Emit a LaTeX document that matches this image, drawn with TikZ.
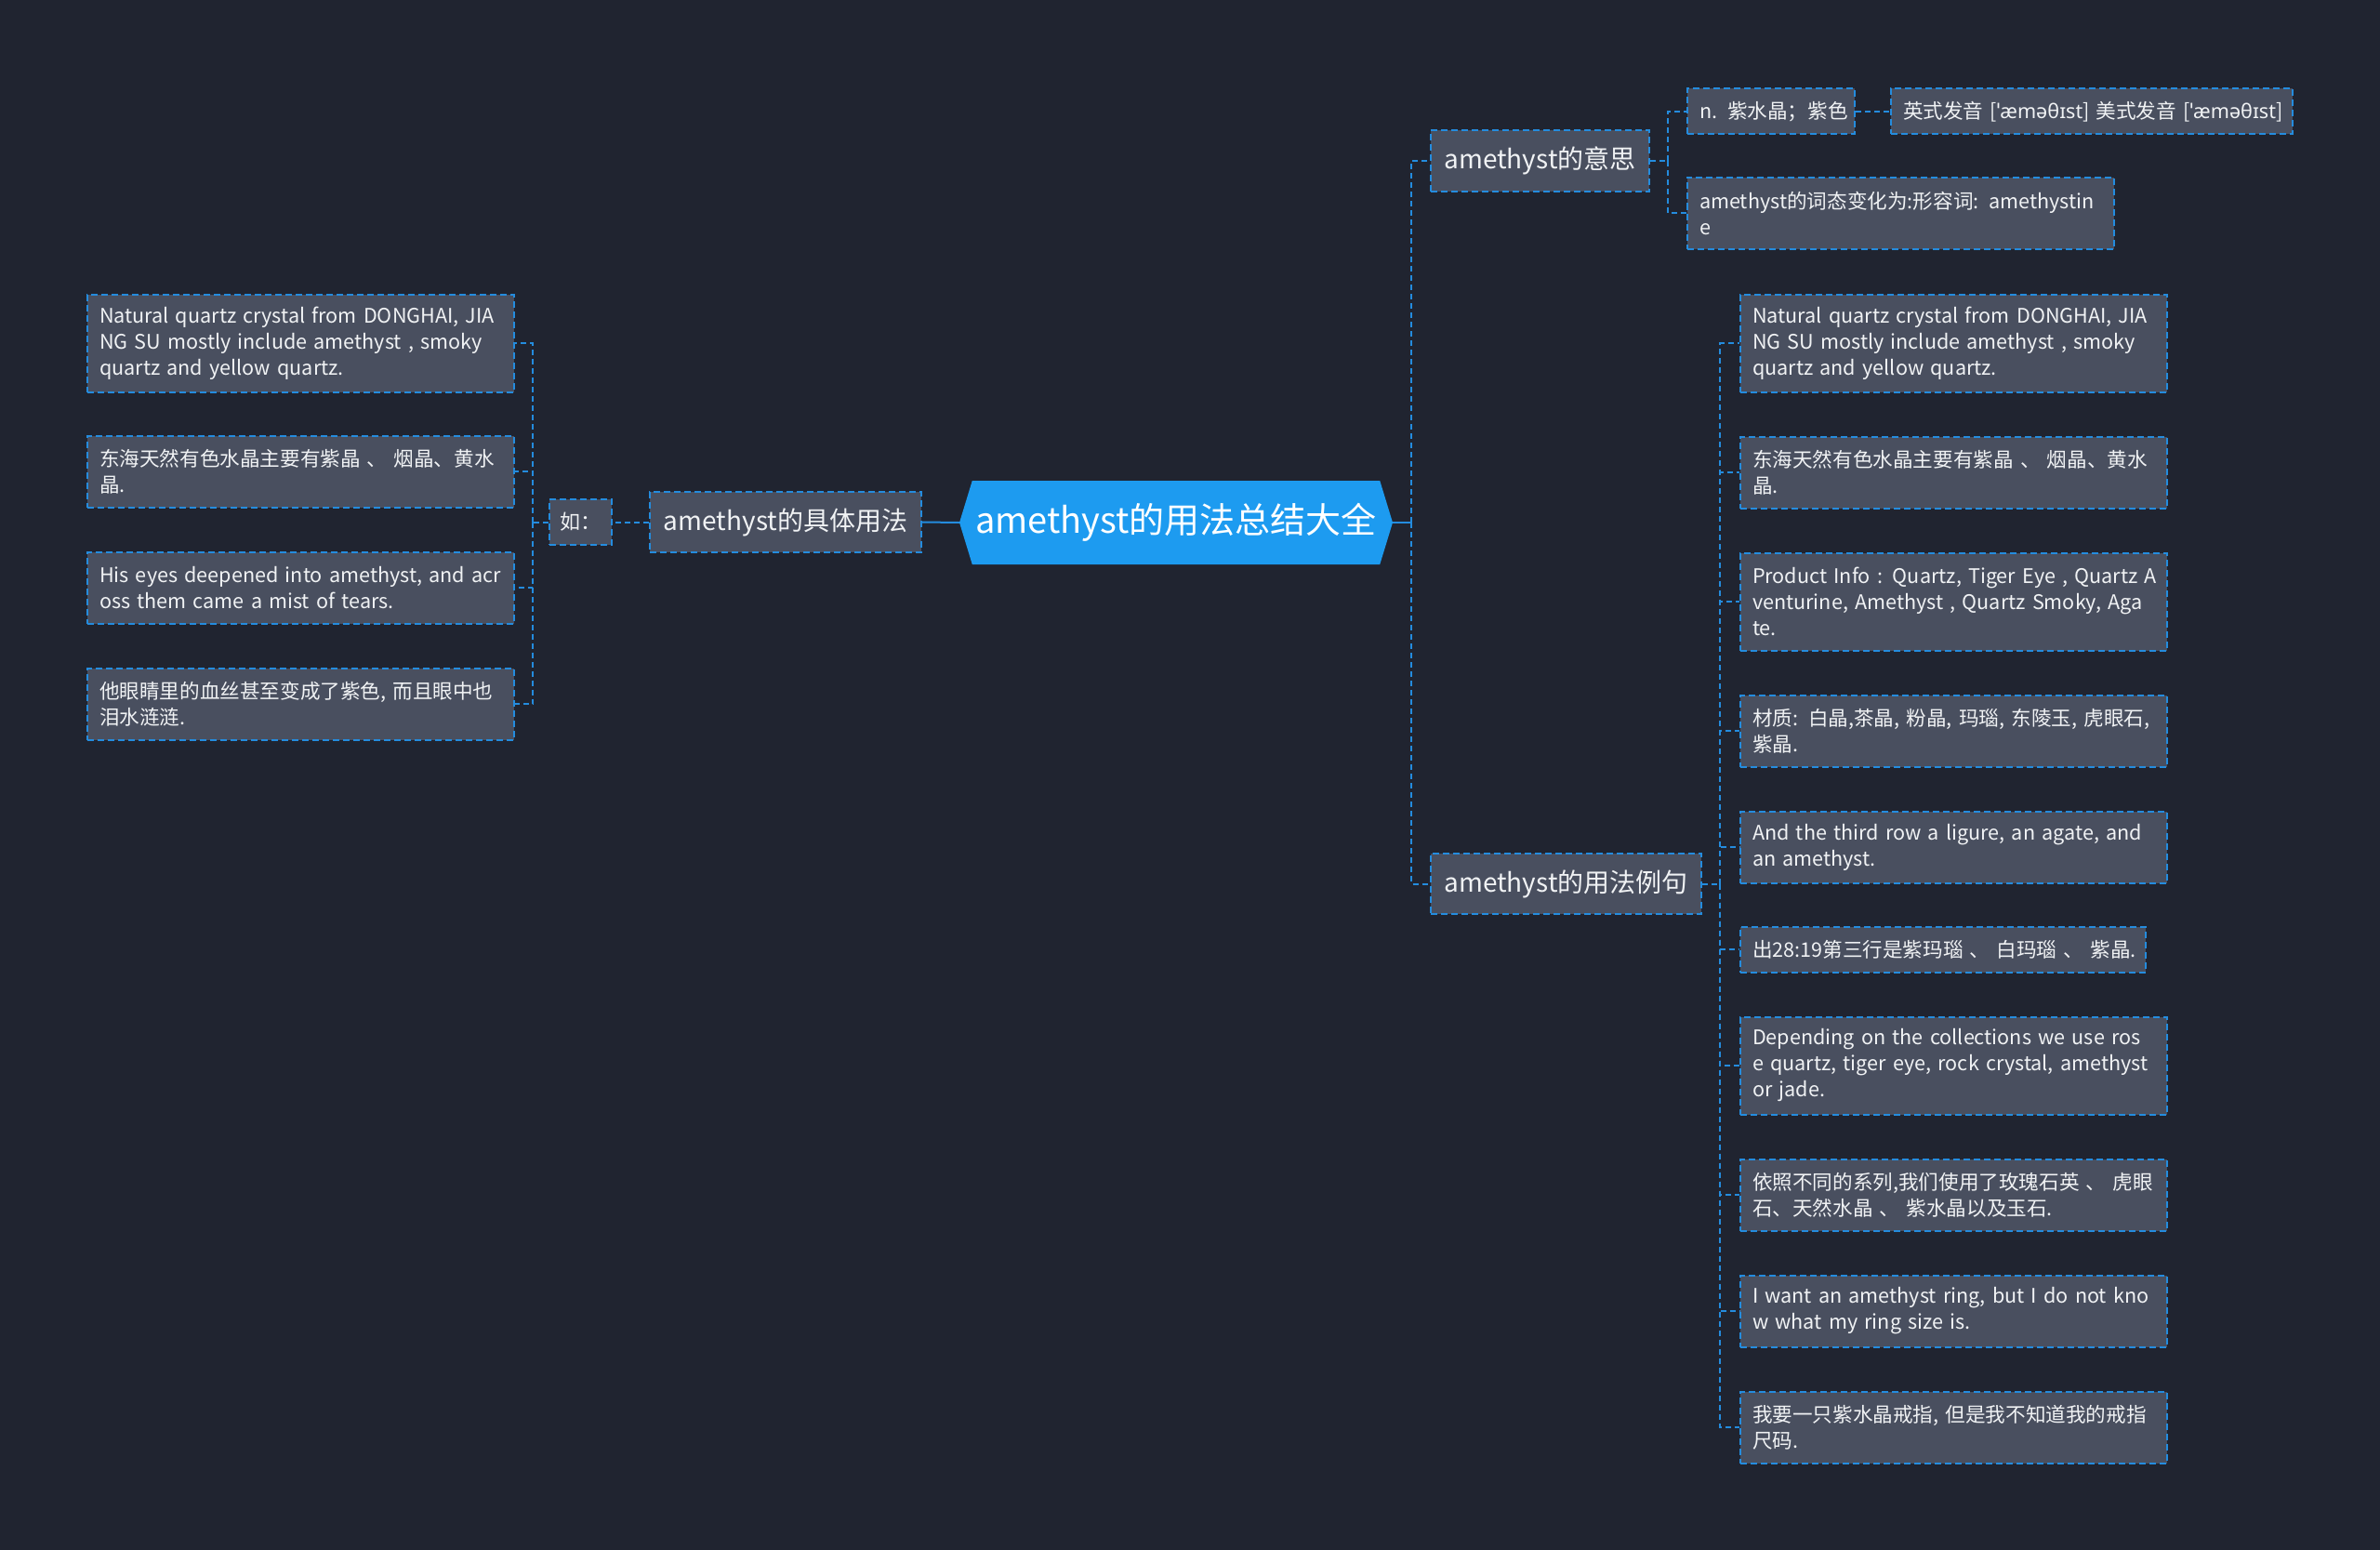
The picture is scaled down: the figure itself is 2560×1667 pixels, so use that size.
\documentclass[tikz,border=0pt]{standalone}
\usepackage{fontspec}
\setmainfont{Noto Sans CJK SC}
\newfontfamily\ipafont{Noto Sans}
\usetikzlibrary{shapes.symbols}
\definecolor{bgc}{RGB}{32,36,48}
\definecolor{boxc}{RGB}{73,79,95}
\definecolor{linec}{RGB}{36,140,222}
\definecolor{rootc}{RGB}{29,155,240}
\definecolor{txtc}{RGB}{240,242,244}

\begin{document}
\begin{tikzpicture}[x=1pt,y=-1pt,
  card/.style={draw=linec,fill=boxc,line width=2pt,dash pattern=on 7pt off 4pt,text=txtc},
  topic/.style={card,font=\fontsize{28}{34}\selectfont,minimum height=65pt,inner xsep=12pt},
  leaf/.style={card,font=\fontsize{21.6}{28}\selectfont,anchor=west,align=left,
    inner xsep=13pt,inner ysep=0pt,text width=433pt,
    execute at begin node={\rightskip=0pt plus 1fil minus 1000pt}},
  rows/.style={minimum height={21+28*#1}},
  link/.style={linec,line width=2pt,dash pattern=on 6pt off 4pt}]
  \fill[bgc] (0,0) rectangle (2560,1667);
  \useasboundingbox (0,0) rectangle (2560,1667);

  % centre
  \node[shape=signal,signal to=west and east,signal pointer angle=146,fill=rootc,
    minimum width=466pt,minimum height=90pt,text=white,
    font=\fontsize{38}{44}\selectfont] (root) at (1265,562) {amethyst的用法总结大全};

  % left side
  \node[topic,minimum width=292pt] (usage) at (845,561.5) {amethyst的具体用法};
  \node[card,font=\fontsize{22}{28}\selectfont,minimum width=67pt,minimum height=49pt,
    inner xsep=8pt] (eg) at (624.5,561.5) {如：};
  \node[leaf,rows=3] (u1) at (93,369) {Natural quartz crystal from DONGHAI, JIA\\NG SU mostly include amethyst , smoky\\quartz and yellow quartz.};
  \node[leaf,rows=2] (u2) at (93,507) {东海天然有色水晶主要有紫晶 、 烟晶、黄水\\晶.};
  \node[leaf,rows=2] (u3) at (93,632) {His eyes deepened into amethyst, and acr\\oss them came a mist of tears.};
  \node[leaf,rows=2] (u4) at (93,757) {他眼睛里的血丝甚至变成了紫色, 而且眼中也\\泪水涟涟.};

  % right side
  \node[topic,minimum width=235pt,anchor=west] (mean) at (1538,173) {amethyst的意思};
  \node[topic,minimum width=291pt,anchor=west] (sent) at (1538,950.5) {amethyst的用法例句};

  \node[leaf,rows=1,text width=154pt] (m1) at (1814,120) {n. 紫水晶；紫色};
  \node[leaf,rows=1,text width=406pt] (m2) at (2033,120) {英式发音 [{\ipafont ˈæməθɪst}] 美式发音 [{\ipafont ˈæməθɪst}]};
  \node[leaf,rows=2] (m3) at (1814,229) {amethyst的词态变化为:形容词: amethystin\\e};

  \node[leaf,rows=3] (s1) at (1871,369) {Natural quartz crystal from DONGHAI, JIA\\NG SU mostly include amethyst , smoky\\quartz and yellow quartz.};
  \node[leaf,rows=2] (s2) at (1871,508) {东海天然有色水晶主要有紫晶 、 烟晶、黄水\\晶.};
  \node[leaf,rows=3] (s3) at (1871,647) {Product Info : Quartz, Tiger Eye , Quartz A\\venturine, Amethyst , Quartz Smoky, Aga\\te.};
  \node[leaf,rows=2] (s4) at (1871,786) {材质: 白晶,茶晶, 粉晶, 玛瑙, 东陵玉, 虎眼石,\\紫晶.};
  \node[leaf,rows=2] (s5) at (1871,911) {And the third row a ligure, an agate, and\\an amethyst.};
  \node[leaf,rows=1,text width=410pt] (s6) at (1871,1021) {出28:19第三行是紫玛瑙 、 白玛瑙 、 紫晶.};
  \node[leaf,rows=3] (s7) at (1871,1146) {Depending on the collections we use ros\\e quartz, tiger eye, rock crystal, amethyst\\or jade.};
  \node[leaf,rows=2] (s8) at (1871,1285) {依照不同的系列,我们使用了玫瑰石英 、 虎眼\\石、天然水晶 、 紫水晶以及玉石.};
  \node[leaf,rows=2] (s9) at (1871,1410) {I want an amethyst ring, but I do not kno\\w what my ring size is.};
  \node[leaf,rows=2] (s10) at (1871,1535) {我要一只紫水晶戒指, 但是我不知道我的戒指\\尺码.};

  % connectors
  \draw[linec,line width=2pt] (root.west) -- (usage.east);
  \draw[link] (usage.west) -- (eg.east);
  \coordinate (jl) at (573,561.5);
  \draw[link] (eg.west) -- (jl);
  \foreach \i in {1,...,4} \draw[link] (jl) |- (u\i.east);

  \coordinate (jr) at (1518,562);
  \draw[linec,line width=2pt] (root.east) -- (jr);
  \foreach \n in {mean,sent} \draw[link] (jr) |- (\n.west);

  \coordinate (jm) at (1794,173);
  \draw[link] (mean.east) -- (jm);
  \foreach \n in {m1,m3} \draw[link] (jm) |- (\n.west);
  \draw[link] (m1) -- (m2);

  \coordinate (js) at (1850,950.5);
  \draw[link] (sent.east) -- (js);
  \foreach \i in {1,...,10} \draw[link] (js) |- (s\i.west);
\end{tikzpicture}
\end{document}
